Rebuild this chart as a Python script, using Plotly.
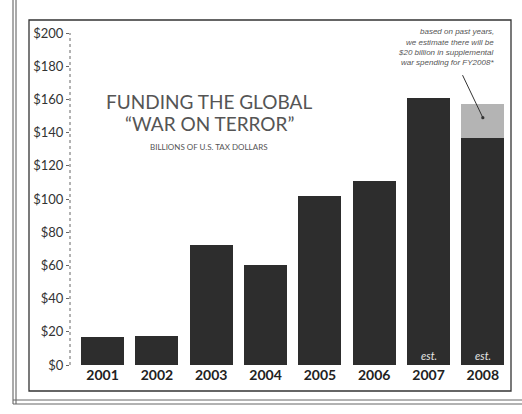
import plotly.graph_objects as go

years = ["2001", "2002", "2003", "2004", "2005", "2006", "2007", "2008"]
base_funding = [17, 17.5, 72, 60, 102, 111, 161, 137]
supplemental_est = [0, 0, 0, 0, 0, 0, 0, 20]
tick_vals = [0, 20, 40, 60, 80, 100, 120, 140, 160, 180, 200]
tick_text = ["$0", "$20", "$40", "$60", "$80", "$100", "$120", "$140", "$160", "$180", "$200"]
est_years = ["2007", "2008"]

W, H = 522, 414
L, R, T, B = 70, 12, 33, 49
pw, ph = W - L - R, H - T - B


def px(x):
    return (x - L) / pw


def py(y):
    return (H - B - y) / ph


fig = go.Figure()
fig.add_trace(go.Bar(x=years, y=base_funding, marker=dict(color="#2d2d2d", line=dict(width=0)),
                     width=0.79, showlegend=False))
fig.add_trace(go.Bar(x=years, y=supplemental_est, marker=dict(color="#b4b4b4", line=dict(width=0)),
                     width=0.79, showlegend=False))

shapes = []
# dashed y-axis line
shapes.append(dict(type="line", xref="paper", yref="paper", x0=0, x1=0, y0=0, y1=1,
                   line=dict(color="#666", width=1, dash="dot")))
# inner box
shapes.append(dict(type="rect", xref="paper", yref="paper", x0=px(29), x1=px(511), y0=py(391), y1=py(20),
                   line=dict(color="#333", width=1.3)))
# outer double frame
for xx in (13, 16):
    shapes.append(dict(type="line", xref="paper", yref="paper", x0=px(xx), x1=px(xx), y0=py(404), y1=py(0),
                       line=dict(color="#555", width=1)))
for yy in (400, 404):
    shapes.append(dict(type="line", xref="paper", yref="paper", x0=px(13), x1=px(522), y0=py(yy), y1=py(yy),
                       line=dict(color="#666", width=1)))

annotations = []
title_font = "Lato, 'Open Sans', sans-serif"
annotations.append(dict(xref="paper", yref="paper", x=px(209), y=py(101), text="FUNDING THE GLOBAL",
                        showarrow=False, font=dict(family=title_font, size=19, color="#555"),
                        xanchor="center", yanchor="middle"))
annotations.append(dict(xref="paper", yref="paper", x=px(209), y=py(123), text="\u201cWAR ON TERROR\u201d",
                        showarrow=False, font=dict(family=title_font, size=19, color="#555"),
                        xanchor="center", yanchor="middle"))
annotations.append(dict(xref="paper", yref="paper", x=px(209), y=py(147), text="BILLIONS OF U.S. TAX DOLLARS",
                        showarrow=False, font=dict(family=title_font, size=8, color="#555"),
                        xanchor="center", yanchor="middle"))
note_lines = ["based on past years,", "we estimate there will be",
              "$20 billion in supplemental", "war spending for FY2008*"]
for i, line in enumerate(note_lines):
    annotations.append(dict(xref="paper", yref="paper", x=px(496), y=py(32 + 10.2 * i), text="<i>" + line + "</i>",
                            showarrow=False, font=dict(family="Liberation Sans, Arial, sans-serif", size=8, color="#555"),
                            xanchor="right", yanchor="middle"))
# arrow pointing to estimated supplemental
annotations.append(dict(x=years.index("2008"), y=149, xref="x", yref="y", text="", showarrow=True,
                        arrowhead=6, arrowsize=0.8, arrowwidth=1, arrowcolor="#333",
                        ax=-21, ay=-44))
for yr in est_years:
    annotations.append(dict(x=years.index(yr), y=6, xref="x", yref="y", text="<i>est.</i>", showarrow=False,
                            font=dict(family=title_font, size=11, color="#e6e6e6"),
                            xanchor="center", yanchor="middle"))

fig.update_layout(
    width=W, height=H,
    margin=dict(l=L, r=R, t=T, b=B),
    paper_bgcolor="white", plot_bgcolor="white",
    barmode="stack", bargap=0.2,
    shapes=shapes, annotations=annotations,
    xaxis=dict(type="category", range=[-0.6, 7.5], showgrid=False, zeroline=False, showline=False,
               automargin=False, ticks="",
               tickfont=dict(family=title_font, size=14, color="#222", weight="bold")),
    yaxis=dict(range=[0, 200], tickvals=tick_vals, ticktext=tick_text, showgrid=False, zeroline=False,
               automargin=False, showline=False, ticks="outside", ticklen=3, tickcolor="#666",
               tickfont=dict(family=title_font, size=13, color="#333")),
)

fig.write_html("out.html", config={"displayModeBar": False},
               post_script="document.body.style.margin='0';document.body.style.overflow='hidden';")
